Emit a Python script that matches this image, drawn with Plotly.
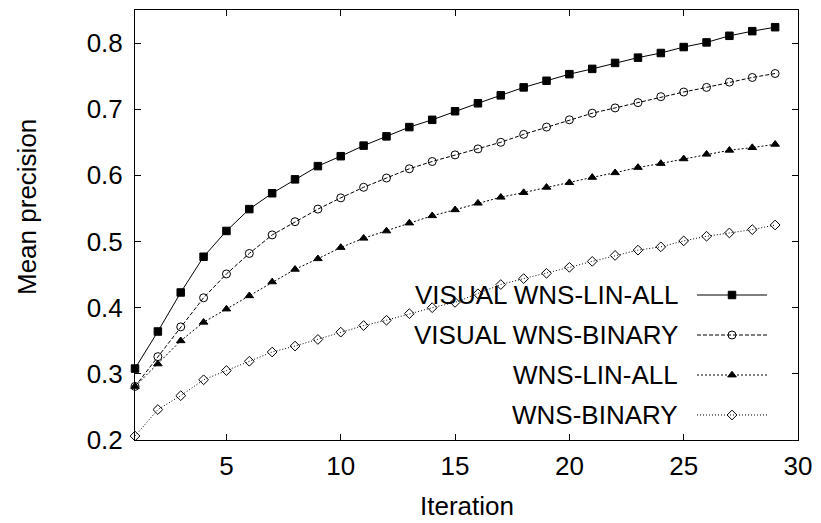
import plotly.graph_objects as go

iterations = list(range(1, 30))

vis_lin_all = [0.308, 0.364, 0.423, 0.477, 0.516, 0.549, 0.573, 0.594, 0.614, 0.629,
               0.645, 0.659, 0.673, 0.684, 0.697, 0.709, 0.721, 0.733, 0.743, 0.753,
               0.761, 0.770, 0.778, 0.785, 0.794, 0.801, 0.811, 0.818, 0.824]
vis_binary = [0.281, 0.326, 0.371, 0.415, 0.451, 0.482, 0.510, 0.530, 0.549, 0.566,
              0.582, 0.596, 0.610, 0.621, 0.631, 0.640, 0.650, 0.662, 0.673, 0.684,
              0.694, 0.702, 0.710, 0.719, 0.726, 0.733, 0.741, 0.748, 0.754]
lin_all = [0.281, 0.315, 0.350, 0.378, 0.398, 0.418, 0.439, 0.458, 0.474, 0.491,
           0.505, 0.516, 0.528, 0.539, 0.548, 0.558, 0.567, 0.574, 0.582, 0.589,
           0.597, 0.604, 0.612, 0.618, 0.625, 0.632, 0.638, 0.642, 0.647]
binary = [0.206, 0.246, 0.267, 0.291, 0.305, 0.319, 0.333, 0.342, 0.352, 0.363,
          0.373, 0.381, 0.391, 0.400, 0.408, 0.421, 0.435, 0.444, 0.452, 0.461,
          0.470, 0.479, 0.487, 0.492, 0.501, 0.508, 0.513, 0.518, 0.525]

series_names = ["VISUAL WNS-LIN-ALL", "VISUAL WNS-BINARY", "WNS-LIN-ALL", "WNS-BINARY"]
series_values = [vis_lin_all, vis_binary, lin_all, binary]

x_ticks = [5, 10, 15, 20, 25, 30]
y_ticks = [0.2, 0.3, 0.4, 0.5, 0.6, 0.7, 0.8]

styles = [
    dict(dash="solid", symbol="square", size=7.5),
    dict(dash="4px,2px", symbol="circle-open", size=8),
    dict(dash="2px,2px", symbol="triangle-up", size=7.5),
    dict(dash="1px,2px", symbol="diamond-open", size=7.5),
]

FONT = "Liberation Sans, Arial, Helvetica, sans-serif"
W, H = 821, 523
L, R, T, B = 135, 23, 10, 83
PX0, PX1, PY0, PY1 = L, W - R, T, H - B

fig = go.Figure()
for name, vals, st in zip(series_names, series_values, styles):
    fig.add_trace(go.Scatter(
        x=iterations, y=vals, name=name, mode="lines+markers",
        line=dict(color="black", width=1, dash=st["dash"]),
        marker=dict(symbol=st["symbol"], size=st["size"], color="black",
                    line=dict(color="black", width=1)),
        cliponaxis=False, showlegend=False,
    ))

# custom legend (text left of sample, as in the reference), on a pixel-mapped overlay axis
legend_rows_y = [295, 335, 375, 415]
for name, st, ry in zip(series_names, styles, legend_rows_y):
    fig.add_trace(go.Scatter(
        x=[697, 767], y=[ry, ry], mode="lines", xaxis="x2", yaxis="y2",
        line=dict(color="black", width=1, dash=st["dash"]), showlegend=False,
        hoverinfo="skip",
    ))
    fig.add_trace(go.Scatter(
        x=[732], y=[ry], mode="markers", xaxis="x2", yaxis="y2",
        marker=dict(symbol=st["symbol"], size=st["size"], color="black",
                    line=dict(color="black", width=1)),
        showlegend=False, hoverinfo="skip", cliponaxis=False,
    ))
    fig.add_annotation(x=680, y=ry, xref="x2", yref="y2", text=name,
                       showarrow=False, xanchor="right", yanchor="middle",
                       font=dict(size=26, family=FONT, color="black"))

axis_common = dict(showgrid=False, zeroline=False, showline=True, linecolor="black",
                   linewidth=1, mirror="ticks", ticks="inside", ticklen=6,
                   tickcolor="black", tickwidth=1,
                   tickfont=dict(size=26, family=FONT, color="black"))

fig.update_layout(
    width=W, height=H,
    margin=dict(l=L, r=R, t=T, b=B, autoexpand=False),
    paper_bgcolor="white", plot_bgcolor="white",
    font=dict(family=FONT, size=26, color="black"),
    xaxis=dict(range=[1, 30], tickvals=x_ticks, ticktext=[str(v) for v in x_ticks],
               ticklabelstandoff=3, **axis_common),
    yaxis=dict(range=[0.2, 0.85], tickvals=y_ticks, ticktext=[f"{v:.1f}" for v in y_ticks],
               ticklabelstandoff=6, **axis_common),
    xaxis2=dict(range=[PX0, PX1], overlaying="x", visible=False, fixedrange=True),
    yaxis2=dict(range=[PY1, PY0], overlaying="y", visible=False, fixedrange=True),
    showlegend=False,
)

fig.add_annotation(text="Iteration", xref="paper", yref="paper", x=0.5,
                   y=(H - B - 506) / (H - B - T), showarrow=False,
                   xanchor="center", yanchor="middle",
                   font=dict(size=26, family=FONT, color="black"))
fig.add_annotation(text="Mean precision", xref="paper", yref="paper",
                   x=(27 - L) / (W - L - R), y=(H - B - 207) / (H - B - T),
                   showarrow=False, textangle=-90, xanchor="center", yanchor="middle",
                   font=dict(size=26, family=FONT, color="black"))

fig.write_html("out.html", config={"displayModeBar": False},
               post_script="document.body.style.margin='0';document.body.style.overflow='hidden';")
